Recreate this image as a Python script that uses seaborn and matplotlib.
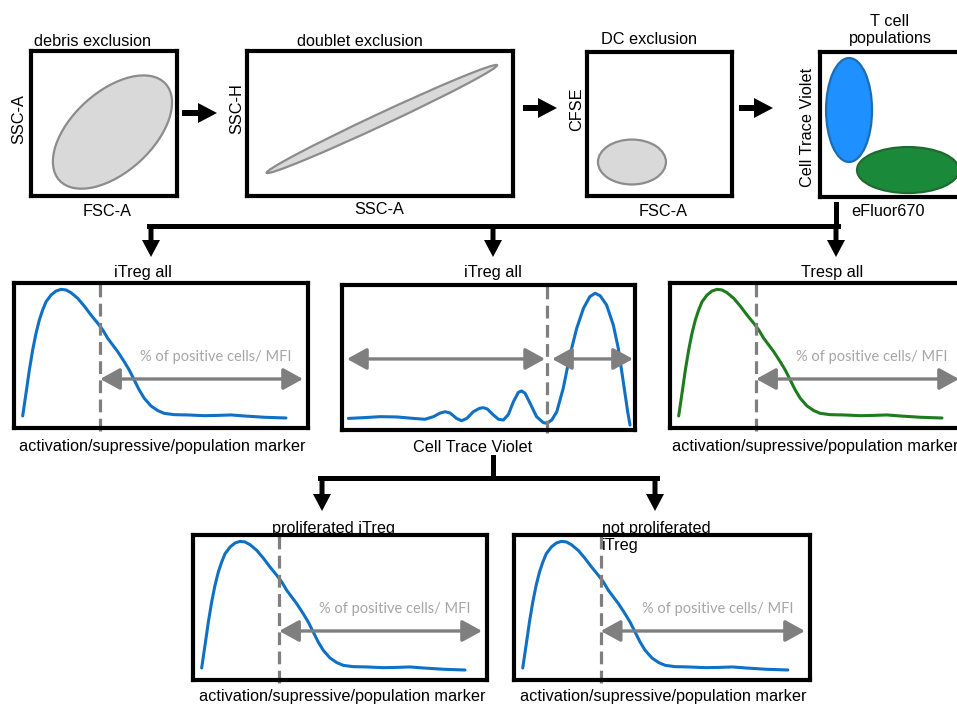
import seaborn as sns
import matplotlib.pyplot as plt
from matplotlib.patches import Ellipse, FancyArrow

# histogram shape of a marker stain (intensity vs. count, 0-100 scale)
marker_intensity = [2.95, 4.08, 5.22, 6.35, 7.48, 8.62, 9.75, 10.9, 12.6, 14.3, 16.0, 17.7,
                    19.4, 21.7, 23.9, 26.2, 28.5, 30.2, 31.9, 33.6, 35.3, 37.5, 39.2, 40.9,
                    42.6, 44.3, 46.6, 48.9, 51.1, 54.5, 59.1, 64.7, 69.3, 73.8, 78.3, 85.2,
                    92.5]
marker_count = [8.3, 23.9, 40.0, 53.8, 65.3, 74.5, 81.4, 87.1, 91.7, 94.5, 95.6, 95.2,
                93.3, 89.4, 84.1, 77.9, 72.2, 67.6, 61.8, 57.2, 52.6, 45.7, 40.0, 33.1,
                26.2, 20.5, 15.2, 12.0, 10.1, 9.2, 9.0, 8.5, 8.7, 9.0, 8.3, 7.4,
                6.9]
marker_gate = 29.3

# Cell Trace Violet dilution histogram
ctv_intensity = [2.2, 7.3, 13.0, 18.7, 24.4, 28.3, 31.2, 33.5, 35.2, 36.9, 39.1, 40.8,
                 42.6, 44.8, 46.9, 48.2, 49.6, 51.7, 53.4, 55.1, 56.8, 58.5, 60.2, 61.3,
                 62.5, 64.2, 66.4, 68.7, 69.9, 71.6, 73.3, 75.5, 77.8, 80.1, 82.4, 84.6,
                 86.4, 88.1, 90.3, 92.6, 94.3, 96.0, 97.5, 98.3]
ctv_count = [8.0, 8.5, 9.2, 9.0, 8.0, 7.4, 9.2, 11.7, 12.6, 11.7, 8.0, 6.4,
             8.0, 12.6, 14.9, 15.4, 14.5, 10.3, 7.4, 6.9, 10.8, 19.5, 26.0, 26.9,
             25.3, 18.4, 9.2, 5.1, 4.6, 6.9, 12.6, 28.7, 51.7, 70.1, 83.9, 92.0,
             94.3, 92.6, 86.2, 72.4, 56.3, 33.3, 12.6, 3.4]
ctv_gate = 70.0

# gates on the dot plots (channel units 0-1000): centre x, centre y, width, height, angle
debris_gate = (558, 441, 986, 552, 42.6)
doublet_gate = (507, 531, 1141, 70, 40.7)
dc_gate = (310, 236, 469, 312, 0)
itreg_gate = (199, 600, 315, 717, 0)
tresp_gate = (603, 186, 699, 317, 0)

BLUE = '#0f70c4'
GREEN = '#1e7b1e'
GREY = '#7f7f7f'
ARIAL = ['Liberation Sans', 'DejaVu Sans']

sns.set_style('white')
plt.rcParams['font.family'] = ARIAL

W, H = 957, 706
fig = plt.figure(figsize=(W / 100, H / 100), dpi=100)


def panel(left, top, width, height, lim):
    ax = fig.add_axes([left / W, 1 - (top + height) / H, width / W, height / H])
    ax.set_xlim(0, lim)
    ax.set_ylim(0, lim)
    ax.set_xticks([])
    ax.set_yticks([])
    for spine in ax.spines.values():
        spine.set_linewidth(3)
        spine.set_color('black')
    return ax


def add_gate(ax, gate, face, edge):
    x, y, w, h, angle = gate
    ax.add_patch(Ellipse((x, y), w, h, angle=angle, facecolor=face,
                         edgecolor=edge, lw=1.6))


def double_arrow(ax, x0, x1, y):
    ax.annotate('', xy=(x1, y), xytext=(x0, y),
                arrowprops=dict(arrowstyle='<|-|>,head_length=0.6,head_width=0.33',
                                mutation_scale=20, color=GREY, lw=2.4,
                                shrinkA=0, shrinkB=0), annotation_clip=False)


def marker_panel(left, top, width, color):
    ax = panel(left, top, width, 145, 100)
    sns.lineplot(x=marker_intensity, y=marker_count, ax=ax, color=color,
                 linewidth=2.2, estimator=None, legend=False)
    ax.plot([marker_gate, marker_gate], [-2, 100], color=GREY, lw=2.3,
            ls=(0, (4, 2)), clip_on=False)
    double_arrow(ax, marker_gate, 98.3, 33.8)
    ax.text(68.7, 48.8, '% of positive cells/ MFI', ha='center', va='center',
            color='#a6a6a6', fontsize=10.5, family=['Lato', 'DejaVu Sans'])
    ax.set_xlim(0, 100)
    ax.set_ylim(0, 100)
    return ax


# top row: dot plots
ax = panel(31, 51, 146, 145, 1000)
add_gate(ax, debris_gate, '#d9d9d9', '#8c8c8c')
ax = panel(247, 51, 266, 145, 1000)
add_gate(ax, doublet_gate, '#d9d9d9', '#8c8c8c')
ax = panel(587, 52, 145, 144, 1000)
add_gate(ax, dc_gate, '#d9d9d9', '#8c8c8c')
ax = panel(820, 52, 146, 145, 1000)
add_gate(ax, itreg_gate, '#1e90ff', '#1a6db5')
add_gate(ax, tresp_gate, '#1a8a3a', '#1f6a30')

# middle row
marker_panel(14, 283, 294, BLUE)
marker_panel(670, 283, 294, GREEN)
ax = panel(342, 285, 293, 145, 100)
sns.lineplot(x=ctv_intensity, y=ctv_count, ax=ax, color=BLUE, linewidth=2.2,
             estimator=None, legend=False)
ax.plot([ctv_gate, ctv_gate], [-2, 100], color=GREY, lw=2.3,
        ls=(0, (4, 2)), clip_on=False)
double_arrow(ax, 1.7, 69.3, 49.0)
double_arrow(ax, 71.7, 99.3, 49.0)
ax.set_xlim(0, 100)
ax.set_ylim(0, 100)

# bottom row
marker_panel(193, 535, 294, BLUE)
marker_panel(514, 535, 296, BLUE)

# overlay in pixel units for labels and connectors
ov = fig.add_axes([0, 0, 1, 1], zorder=10)
ov.set_xlim(0, W)
ov.set_ylim(H, 0)
ov.axis('off')


def label(x, y, s, **kw):
    kw.setdefault('ha', 'center')
    ov.text(x, y, s, va='center', fontsize=11.7, color='black', **kw)


label(92, 41, 'debris exclusion')
label(19, 119, 'SSC-A', rotation=90)
label(107, 211, 'FSC-A')
label(360, 41, 'doublet exclusion')
label(237, 109, 'SSC-H', rotation=90)
label(379, 210, 'SSC-A')
label(649, 40, 'DC exclusion')
label(577, 109, 'CFSE', rotation=90)
label(663, 211, 'FSC-A')
label(890, 30, 'T cell\npopulations', linespacing=1.15)
label(807, 127, 'Cell Trace Violet', rotation=90)
label(888, 211, 'eFluor670')

label(143, 273, 'iTreg all')
label(162, 446, 'activation/supressive/population marker')
label(493, 273, 'iTreg all')
label(473, 447, 'Cell Trace Violet')
label(832, 273, 'Tresp all')
label(815, 446, 'activation/supressive/population marker')

label(333, 528, 'proliferated iTreg')
label(602, 537, 'not proliferated\niTreg', ha='left', linespacing=1.1)
label(342, 697, 'activation/supressive/population marker')
label(663, 697, 'activation/supressive/population marker')

# black connectors
for xs, ys in [([836, 836], [204, 226]), ([149, 838], [226, 226]),
               ([493, 493], [457, 478]), ([320, 495], [478, 478]),
               ([493, 657], [478, 478])]:
    ov.plot(xs, ys, color='black', lw=3.6, solid_capstyle='projecting')

for x0, x1, y in [(182, 217, 113), (523, 557, 108), (739, 773, 108)]:
    ov.add_patch(FancyArrow(x0, y, x1 - x0, 0, width=6, head_width=20,
                            head_length=19, length_includes_head=True,
                            color='black', lw=0))

for x, y0, y1 in [(151, 226, 257), (493, 226, 257), (836, 226, 257),
                  (322, 478, 511), (655, 478, 511)]:
    ov.add_patch(FancyArrow(x, y0, 0, y1 - y0, width=5, head_width=18,
                            head_length=17, length_includes_head=True,
                            color='black', lw=0))

fig.savefig('out.png', dpi=100)
